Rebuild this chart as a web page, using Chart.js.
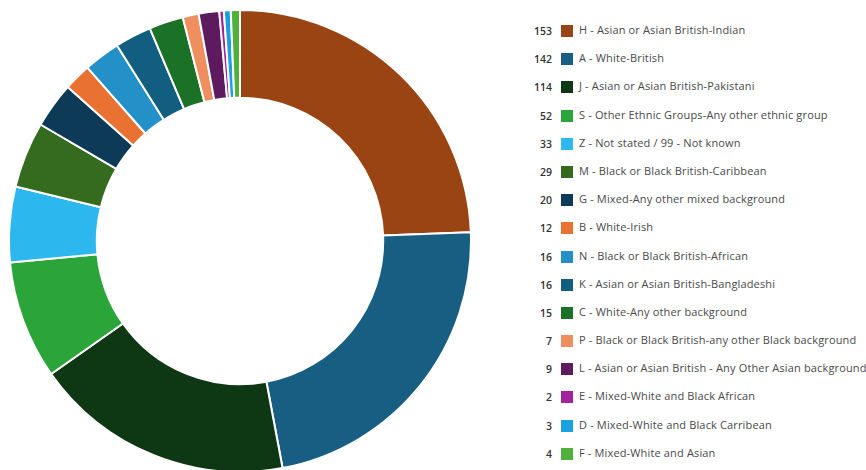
<!DOCTYPE html>
<html>
<head>
<meta charset="utf-8">
<script src="https://cdn.jsdelivr.net/npm/chart.js@4.4.1/dist/chart.umd.min.js"></script>
<style>
    body { margin: 0; background: #fff; width: 866px; height: 470px; overflow: hidden; position: relative; font-family: 'Open Sans', sans-serif; }
    #chart-wrap { position: absolute; left: 8px; top: 9px; width: 464px; height: 464px; }
    #legend { position: absolute; left: 528px; top: 22px; }
    .row { position: relative; height: 28.2px; white-space: nowrap; }
    .num { position: absolute; right: -24px; width: 30px; text-align: right; font-size: 10.5px; font-weight: 600; color: #333; top: 2px; }
    .box { position: absolute; left: 33px; top: 3px; width: 12px; height: 12px; }
    .lbl { position: absolute; left: 51px; top: 0; font-size: 11px; color: #4a4a4a; letter-spacing: 0.15px; }
</style>
</head>
<body>
<div id="chart-wrap"><canvas id="donut"></canvas></div>
<div id="legend"></div>
<script>
// Data
const labels = [
    'H - Asian or Asian British-Indian',
    'A - White-British',
    'J - Asian or Asian British-Pakistani',
    'S - Other Ethnic Groups-Any other ethnic group',
    'Z - Not stated / 99 - Not known',
    'M - Black or Black British-Caribbean',
    'G - Mixed-Any other mixed background',
    'B - White-Irish',
    'N - Black or Black British-African',
    'K - Asian or Asian British-Bangladeshi',
    'C - White-Any other background',
    'P - Black or Black British-any other Black background',
    'L - Asian or Asian British - Any Other Asian background',
    'E - Mixed-White and Black African',
    'D - Mixed-White and Black Carribean',
    'F - Mixed-White and Asian'
];
const counts = [153, 142, 114, 52, 33, 29, 20, 12, 16, 16, 15, 7, 9, 2, 3, 4];
const colors = [
    '#9a4413', '#175e82', '#0e3814', '#2ba53a',
    '#2cb7ee', '#356b1e', '#0d3a56', '#e97132',
    '#2490c8', '#125e80', '#1b7125', '#ef8e5e',
    '#5e1a5e', '#a3239f', '#1ba0e0', '#4fb13b'
];

// Legend (HTML, count on the left)
const legend = document.getElementById('legend');
labels.forEach((l, i) => {
    const row = document.createElement('div');
    row.className = 'row';
    row.innerHTML = `
        <span class="num">${counts[i]}</span>
        <span class="box" style="background:${colors[i]}"></span>
        <span class="lbl">${l}</span>
    `;
    legend.appendChild(row);
});

new Chart(document.getElementById('donut'), {
    type: 'doughnut',
    data: {
        labels: labels,
        datasets: [{
            data: counts,
            backgroundColor: colors,
            borderColor: '#fff',
            borderWidth: 2
        }]
    },
    options: {
        responsive: true,
        maintainAspectRatio: false,
        animation: false,
        cutout: '62%',
        layout: { padding: 0 },
        plugins: {
            legend: { display: false },
            tooltip: { enabled: false }
        }
    }
});
</script>
</body>
</html>
